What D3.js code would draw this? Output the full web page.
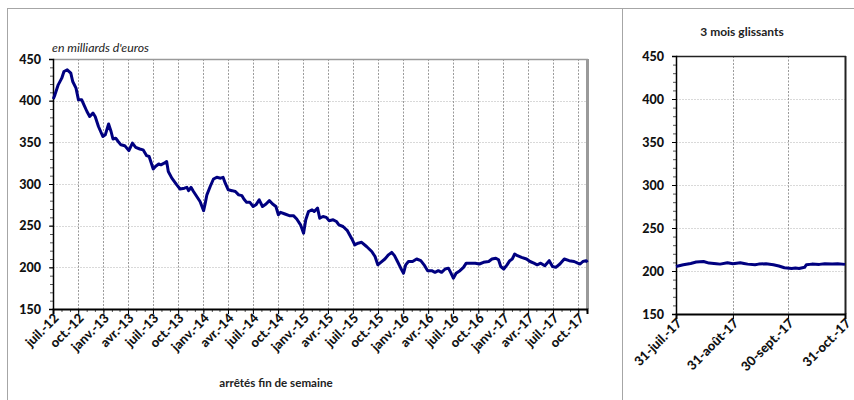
<!DOCTYPE html>
<html>
<head>
<meta charset="utf-8">
<script src="https://cdn.jsdelivr.net/npm/d3@7"></script>
<style>
body { margin: 0; background: #fff; }
text { font-family: Lato, "Open Sans", sans-serif; }
</style>
</head>
<body>
<svg id="chart" width="854" height="400"></svg>
<script>
// encours hebdomadaires, en milliards d'euros
var dates = [
  "2012-07-02","2012-07-08","2012-07-20","2012-08-02","2012-08-10","2012-08-22","2012-09-04","2012-09-11","2012-09-23",
  "2012-10-02","2012-10-14","2012-10-22","2012-11-02","2012-11-12","2012-11-24","2012-12-02","2012-12-14","2012-12-30",
  "2013-01-08","2013-01-20","2013-01-29","2013-02-05","2013-02-15","2013-02-24","2013-03-06","2013-03-20","2013-04-04",
  "2013-04-17","2013-04-29","2013-05-14","2013-05-26","2013-06-08","2013-06-17","2013-06-23","2013-07-02","2013-07-10",
  "2013-07-22","2013-07-30","2013-08-11","2013-08-20","2013-08-26","2013-09-08","2013-09-26","2013-10-08","2013-10-24",
  "2013-11-02","2013-11-08","2013-11-17","2013-11-26","2013-12-08","2013-12-20","2014-01-02","2014-01-08","2014-01-14",
  "2014-01-26","2014-02-07","2014-02-19","2014-03-05","2014-03-14","2014-03-22","2014-04-02","2014-04-16","2014-04-28",
  "2014-05-10","2014-05-22","2014-05-29","2014-06-08","2014-06-20","2014-07-02","2014-07-12","2014-07-24","2014-08-05",
  "2014-08-18","2014-08-30","2014-09-11","2014-09-23","2014-10-02","2014-10-10","2014-10-26","2014-11-11","2014-11-26",
  "2014-12-08","2014-12-22","2015-01-02","2015-01-10","2015-01-20","2015-02-02","2015-02-10","2015-02-22","2015-03-02",
  "2015-03-14","2015-03-26","2015-04-05","2015-04-20","2015-05-02","2015-05-11","2015-05-26","2015-06-11","2015-06-26",
  "2015-07-08","2015-07-20","2015-08-02","2015-08-20","2015-09-08","2015-09-20","2015-09-30","2015-10-11","2015-10-26",
  "2015-11-08","2015-11-20","2015-11-30","2015-12-11","2015-12-23","2016-01-02","2016-01-10","2016-01-20","2016-02-04",
  "2016-02-19","2016-03-05","2016-03-17","2016-03-30","2016-04-14","2016-04-26","2016-05-08","2016-05-20","2016-06-02",
  "2016-06-14","2016-06-22","2016-07-02","2016-07-12","2016-07-26","2016-08-08","2016-08-18","2016-09-02","2016-09-20",
  "2016-10-05","2016-10-20","2016-11-08","2016-11-20","2016-12-04","2016-12-14","2016-12-22","2017-01-02","2017-01-14",
  "2017-01-24","2017-02-02","2017-02-11","2017-02-21","2017-03-08","2017-03-26","2017-04-08","2017-04-22","2017-05-04",
  "2017-05-17","2017-06-01","2017-06-17","2017-06-29","2017-07-11","2017-07-26","2017-08-11","2017-08-29","2017-09-16",
  "2017-09-29","2017-10-08","2017-10-18","2017-10-30","2017-11-03"
];
var values = [
  402,407,419,427,435,437,433,423,415,
  401,401,395,387,381,385,381,369,357,
  359,372,363,354,355,351,347,346,340,
  349,344,342,341,334,333,327,318,321,
  324,323,325,327,315,307,299,294,295,
  296,292,296,291,285,279,268,277,287,
  297,306,308,307,308,301,293,292,291,
  287,286,282,278,278,273,275,281,273,
  276,280,276,273,263,266,264,262,262,
  258,251,241,257,267,269,267,271,259,
  261,260,256,257,255,251,249,244,235,
  227,229,230,225,219,213,203,206,210,
  215,218,214,207,199,193,203,207,207,
  210,208,203,196,196,194,196,194,198,
  199,194,187,193,196,200,205,205,205,
  204,206,207,210,211,209,201,198,203,
  208,210,216,214,212,210,207,205,203,
  205,202,208,201,200,204,210,208,207,
  205,204,207,208,206
];

// 3 mois glissants
var zoomDates = [
  "2017-07-31","2017-08-04","2017-08-08","2017-08-11","2017-08-15","2017-08-18","2017-08-22","2017-08-24","2017-08-28",
  "2017-08-31","2017-09-04","2017-09-06","2017-09-08","2017-09-12","2017-09-14","2017-09-18","2017-09-22","2017-09-25",
  "2017-09-28","2017-10-02","2017-10-04","2017-10-06","2017-10-09","2017-10-10","2017-10-13","2017-10-17","2017-10-20",
  "2017-10-24","2017-10-27","2017-10-31"
];
var zoomValues = [
  205.3,207.3,208.8,210.4,211.1,209.2,208.4,208,209.6,
  208.4,209.6,208.8,208,207.3,208,208.4,207.3,205.8,
  203.8,203,203.4,203,204.3,207.3,208,207.7,208.4,
  208,208.4,207.7
];

var yTicks = [150, 200, 250, 300, 350, 400, 450];
var moisFr = ["janv.","févr.","mars","avr.","mai","juin","juil.","août","sept.","oct.","nov.","déc."];

var parse = d3.timeParse("%Y-%m-%d");
var data = dates.map(function (d, i) { return [parse(d), values[i]]; });
var zoomData = zoomDates.map(function (d, i) { return [parse(d), zoomValues[i]]; });

var svg = d3.select("#chart");
var lineColor = "#000080";

// cadres
svg.append("rect").attr("x", 7.5).attr("y", 8.5).attr("width", 615).attr("height", 420)
  .attr("fill", "none").attr("stroke", "#a6a6a6");
svg.append("rect").attr("x", 622.5).attr("y", 8.5).attr("width", 300).attr("height", 420)
  .attr("fill", "none").attr("stroke", "#a6a6a6");

function drawPanel(opt) {
  var x = d3.scaleTime().domain(opt.xDomain).range([opt.left, opt.right]);
  var y = d3.scaleLinear().domain([150, 450]).range([opt.bottom, opt.top]);
  var g = svg.append("g");

  // grille horizontale
  g.selectAll(".hgrid").data(yTicks.slice(1, -1)).enter().append("line")
    .attr("x1", opt.left).attr("x2", opt.right)
    .attr("y1", function (d) { return Math.round(y(d)) + 0.5; })
    .attr("y2", function (d) { return Math.round(y(d)) + 0.5; })
    .attr("stroke", "#d9d9d9").attr("stroke-dasharray", "2,1");

  // grille verticale
  g.selectAll(".vgrid").data(opt.xTicks.slice(1)).enter().append("line")
    .attr("x1", function (d) { return Math.round(x(d)) + 0.5; })
    .attr("x2", function (d) { return Math.round(x(d)) + 0.5; })
    .attr("y1", opt.top).attr("y2", opt.bottom)
    .attr("stroke", "#9a9a9a").attr("stroke-dasharray", "2,1.5");

  // bord haut et droit
  g.append("line").attr("x1", opt.left).attr("x2", opt.right + 1)
    .attr("y1", opt.top + 0.5).attr("y2", opt.top + 0.5)
    .attr("stroke", opt.frameColor).attr("stroke-width", 1.5);
  g.append("line").attr("x1", opt.right + 0.5).attr("x2", opt.right + 0.5)
    .attr("y1", opt.top).attr("y2", opt.bottom)
    .attr("stroke", opt.frameColor).attr("stroke-width", opt.rightWidth);

  // axe y
  var yMinor = d3.axisLeft(y).tickValues(d3.range(150, 451, 10)).tickSize(3).tickFormat("");
  g.append("g").attr("transform", "translate(" + opt.left + ",0)").call(yMinor)
    .call(function (a) { a.select(".domain").remove(); a.selectAll("line").attr("stroke", "#555"); });
  var yAxis = d3.axisLeft(y).tickValues(yTicks).tickSize(4).tickPadding(8);
  g.append("g").attr("transform", "translate(" + opt.left + ",0)").call(yAxis)
    .call(function (a) {
      a.select(".domain").attr("stroke", "#000").attr("stroke-width", 1.5);
      a.selectAll("text").attr("font-size", 12.5).attr("font-weight", "900").attr("fill", "#111")
        .style("font-family", "Lato, sans-serif");
    });

  // axe x
  if (opt.xMinor) {
    var xMinor = d3.axisBottom(x).tickValues(opt.xMinor).tickSize(3).tickFormat("");
    g.append("g").attr("transform", "translate(0," + opt.bottom + ")").call(xMinor)
      .call(function (a) { a.select(".domain").remove(); a.selectAll("line").attr("stroke", "#555"); });
  }
  var xAxis = d3.axisBottom(x).tickValues(opt.xTicks).tickSize(5).tickFormat(opt.fmt);
  g.append("g").attr("transform", "translate(0," + opt.bottom + ")").call(xAxis)
    .call(function (a) {
      a.select(".domain").attr("stroke", "#000").attr("stroke-width", 2);
      a.selectAll("text").attr("font-size", 13).attr("font-weight", "900").attr("fill", "#111")
        .style("font-family", "Lato, sans-serif")
        .attr("text-anchor", "end").attr("dy", null).attr("y", 0)
        .attr("transform", "translate(6,10) rotate(-45)");
    });

  // courbe
  var line = d3.line().x(function (d) { return x(d[0]); }).y(function (d) { return y(d[1]); });
  g.append("path").datum(opt.data).attr("d", line)
    .attr("fill", "none").attr("stroke", lineColor).attr("stroke-width", 3)
    .attr("stroke-linejoin", "round");
}

drawPanel({
  xDomain: [parse("2012-07-01"), parse("2017-11-02")],
  left: 53, right: 587, top: 59, bottom: 309,
  xTicks: d3.timeMonth.every(3).range(parse("2012-07-01"), parse("2017-10-02")),
  xMinor: d3.timeMonth.range(parse("2012-07-01"), parse("2017-11-02")),
  fmt: function (d) { return moisFr[d.getMonth()] + "-" + d3.timeFormat("%y")(d); },
  frameColor: "#9a9a9a", rightWidth: 3,
  data: data
});

drawPanel({
  xDomain: [parse("2017-07-31"), parse("2017-10-31")],
  left: 676, right: 845, top: 56, bottom: 314,
  xTicks: ["2017-07-31", "2017-08-31", "2017-09-30", "2017-10-31"].map(parse),
  xMinor: null,
  fmt: function (d) { return d.getDate() + "-" + moisFr[d.getMonth()] + "-" + d3.timeFormat("%y")(d); },
  frameColor: "#222", rightWidth: 2,
  data: zoomData
});

// textes
svg.append("text").attr("x", 52).attr("y", 52).attr("font-size", 12.3).attr("font-style", "italic")
  .attr("fill", "#222").text("en milliards d'euros");
svg.append("text").attr("x", 276).attr("y", 387).attr("font-size", 11.6).attr("font-weight", "bold")
  .attr("text-anchor", "middle").attr("fill", "#222").text("arrêtés fin de semaine");
svg.append("text").attr("x", 742).attr("y", 36).attr("font-size", 12).attr("font-weight", "bold")
  .attr("text-anchor", "middle").attr("fill", "#222").text("3 mois glissants");
</script>
</body>
</html>
